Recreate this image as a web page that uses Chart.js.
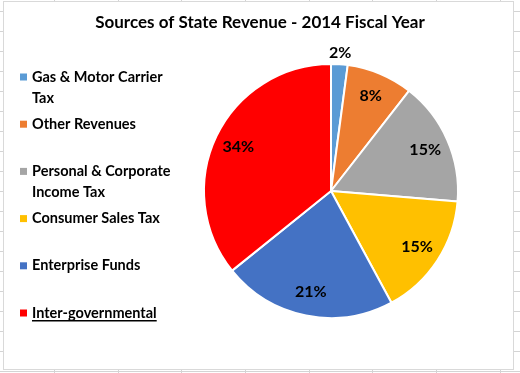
<!DOCTYPE html>
<html>
<head>
<meta charset="utf-8">
<script src="https://cdn.jsdelivr.net/npm/chart.js@4"></script>
<style>
  html, body { margin: 0; padding: 0; }
  body {
    width: 520px; height: 373px; position: relative; overflow: hidden;
    background-color: #fff;
    background-image:
      repeating-linear-gradient(to bottom, transparent 0px, transparent 11px, #d4d4d4 11px, #d4d4d4 12px, transparent 12px, transparent 20px),
      repeating-linear-gradient(to right, transparent 0px, transparent 54px, #d4d4d4 54px, #d4d4d4 55px, transparent 55px, transparent 63.7px);
  }
  #box {
    position: absolute; left: 3px; top: 1px; width: 509px; height: 367px;
    border: 1px solid #d9d9d9; background: #fff;
  }
  #wrap { position: absolute; left: 0; top: 0; width: 520px; height: 373px; }
</style>
</head>
<body>
<div id="box"></div>
<div id="wrap"><canvas id="c" width="520" height="373"></canvas></div>
<script>
const titleText = "Sources of State Revenue - 2014 Fiscal Year";
const categories = ["Gas & Motor Carrier Tax", "Other Revenues", "Personal & Corporate Income Tax", "Consumer Sales Tax", "Enterprise Funds", "Inter-governmental"];
const legendLines = [["Gas & Motor Carrier", "Tax"], ["Other Revenues"], ["Personal & Corporate", "Income Tax"], ["Consumer Sales Tax"], ["Enterprise Funds"], ["Inter-governmental"]];
const values = [2, 8, 15, 15, 21, 34];
const colors = ["#5B9BD5", "#ED7D31", "#A5A5A5", "#FFC000", "#4472C4", "#FF0000"];

const FONT = "Lato, 'Open Sans', sans-serif";

const decorPlugin = {
  id: 'decor',
  afterDatasetsDraw(chart) {
    const ctx = chart.ctx;
    ctx.save();
    // data labels
    const meta = chart.getDatasetMeta(0);
    ctx.font = "bold 16px " + FONT;
    ctx.fillStyle = "#000";
    ctx.textAlign = "center";
    ctx.textBaseline = "middle";
    meta.data.forEach((arc, i) => {
      const p = arc.getProps(['x', 'y', 'startAngle', 'endAngle', 'outerRadius'], true);
      const mid = (p.startAngle + p.endAngle) / 2;
      const f = values[i] < 5 ? 1.09 : 0.81;
      const r = p.outerRadius * f;
      ctx.fillText(values[i] + "%", p.x + Math.cos(mid) * r, p.y + Math.sin(mid) * r);
    });
    // title
    ctx.font = "bold 17px " + FONT;
    ctx.fillText(titleText, 260, 23);
    // legend
    ctx.textAlign = "left";
    ctx.font = "bold 14.5px " + FONT;
    legendLines.forEach((lines, i) => {
      const y0 = 77 + i * 47.2;
      ctx.fillStyle = colors[i];
      ctx.fillRect(20, y0 - 3.5, 7, 7);
      ctx.fillStyle = "#000";
      lines.forEach((t, j) => {
        const y = y0 + j * 21;
        ctx.fillText(t, 32, y);
        if (categories[i] === "Inter-governmental") {
          const w = ctx.measureText(t).width;
          ctx.fillRect(32, y + 7, w, 1.5);
        }
      });
    });
    ctx.restore();
  }
};

new Chart(document.getElementById('c'), {
  type: 'pie',
  data: {
    labels: categories,
    datasets: [{
      data: values,
      backgroundColor: colors,
      borderColor: "#ffffff",
      borderWidth: 2
    }]
  },
  options: {
    responsive: false,
    animation: false,
    layout: { padding: { left: 203, top: 63, right: 61, bottom: 54 } },
    plugins: {
      legend: { display: false },
      tooltip: { enabled: false },
      title: { display: false }
    }
  },
  plugins: [decorPlugin]
});
</script>
</body>
</html>
